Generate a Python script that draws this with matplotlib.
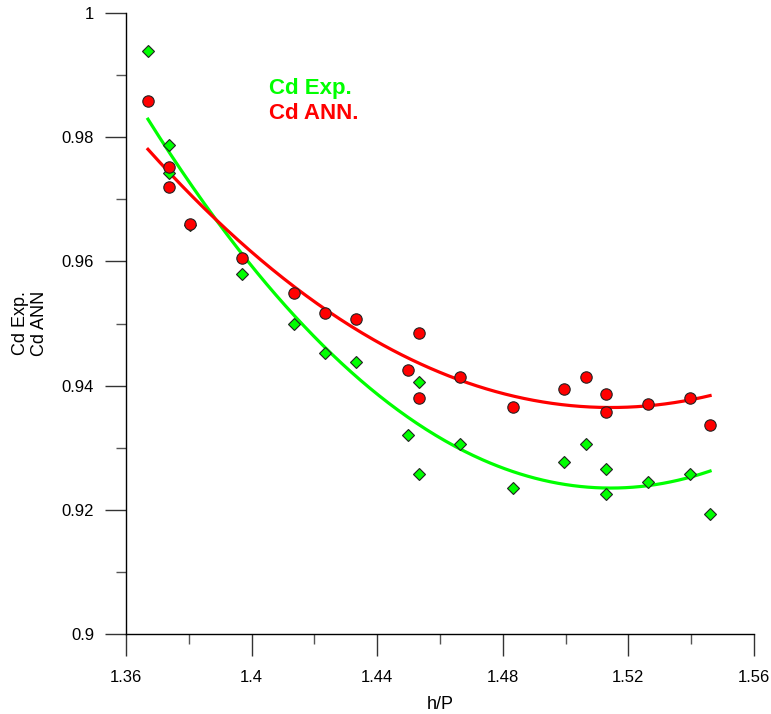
import numpy as np
import matplotlib
matplotlib.use("Agg")
import matplotlib.pyplot as plt
from matplotlib.ticker import MultipleLocator

plt.rcParams['font.family'] = ['Liberation Sans', 'DejaVu Sans']

# Data
h_p = [1.3670, 1.3737, 1.3737, 1.3804, 1.3969, 1.4135, 1.4234, 1.4332, 1.4498,
       1.4533, 1.4533, 1.4664, 1.4832, 1.4995, 1.5065, 1.5129, 1.5129, 1.5262,
       1.5396, 1.5460]
cd_exp = [0.9939, 0.9787, 0.9742, 0.9659, 0.9580, 0.9499, 0.9453, 0.9438, 0.9321,
          0.9406, 0.9258, 0.9306, 0.9235, 0.9277, 0.9306, 0.9266, 0.9225, 0.9245,
          0.9258, 0.9194]
cd_ann = [0.9858, 0.9752, 0.9720, 0.9660, 0.9606, 0.9549, 0.9517, 0.9507, 0.9425,
          0.9485, 0.9380, 0.9414, 0.9366, 0.9395, 0.9414, 0.9387, 0.9358, 0.9370,
          0.9380, 0.9337]

x_ticks = [1.36, 1.4, 1.44, 1.48, 1.52, 1.56]
x_tick_labels = ['1.36', '1.4', '1.44', '1.48', '1.52', '1.56']
y_ticks = [0.9, 0.92, 0.94, 0.96, 0.98, 1.0]
y_tick_labels = ['0.9', '0.92', '0.94', '0.96', '0.98', '1']

GREEN = '#00ff00'
RED = '#ff0000'

fig = plt.figure(figsize=(7.71, 7.14), dpi=100)
ax = fig.add_axes([0.1634, 0.1120, 0.8146, 0.8698])

x = np.array(h_p)
xs = np.linspace(x.min(), x.max(), 300)
pe = np.polyfit(x, cd_exp, 2)
pa = np.polyfit(x, cd_ann, 2)
ax.plot(xs, np.polyval(pe, xs), color=GREEN, lw=2.3, zorder=2)
ax.plot(xs, np.polyval(pa, xs), color=RED, lw=2.3, zorder=2)

ax.plot(h_p, cd_exp, linestyle='none', marker='D', markersize=6,
        markerfacecolor=GREEN, markeredgecolor='#222222', markeredgewidth=0.8, zorder=3)
ax.plot(h_p, cd_ann, linestyle='none', marker='o', markersize=8.2,
        markerfacecolor=RED, markeredgecolor='#222222', markeredgewidth=0.8, zorder=3)

ax.set_xlim(1.36, 1.56)
ax.set_ylim(0.9, 1.0)
ax.set_xticks(x_ticks)
ax.set_xticklabels(x_tick_labels)
ax.set_yticks(y_ticks)
ax.set_yticklabels(y_tick_labels)
ax.xaxis.set_minor_locator(MultipleLocator(0.02))
ax.yaxis.set_minor_locator(MultipleLocator(0.01))

for s in ['top', 'right']:
    ax.spines[s].set_visible(False)
for s in ['left', 'bottom']:
    ax.spines[s].set_linewidth(1.0)
    ax.spines[s].set_color('black')

ax.tick_params(which='major', direction='out', length=15, width=1.0,
               labelsize=12, pad=8, color='#333333')
ax.tick_params(which='minor', direction='out', length=7.5, width=1.0, color='#555555')
ax.tick_params(axis='x', which='major', length=16, pad=10)

ax.set_xlabel('h/P', fontsize=13, labelpad=8)
ax.set_ylabel('Cd Exp.\nCd ANN', fontsize=13, labelpad=10, linespacing=1.15)

ax.text(0.227, 0.870, 'Cd Exp.', transform=ax.transAxes, color=GREEN,
        fontsize=16, fontweight='bold', va='baseline')
ax.text(0.227, 0.830, 'Cd ANN.', transform=ax.transAxes, color=RED,
        fontsize=16, fontweight='bold', va='baseline')

fig.savefig('out.png', dpi=100)
